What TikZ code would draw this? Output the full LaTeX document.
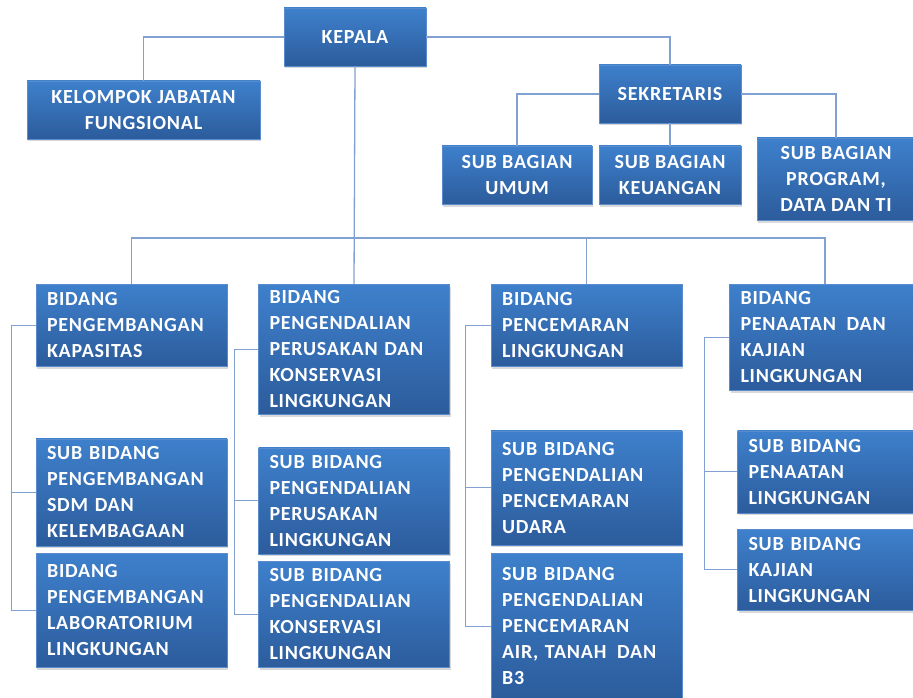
\documentclass[tikz,border=0pt]{standalone}
\usepackage{fontspec}
\setmainfont{Carlito}[LetterSpace=4]
\usepackage{tikz}
\usetikzlibrary{positioning,calc,shadows}
\definecolor{boxtop}{RGB}{62,128,204}
\definecolor{boxbottom}{RGB}{44,92,156}
\definecolor{boxline}{RGB}{90,140,205}
\definecolor{linkblue}{RGB}{128,161,209}

\begin{document}
\begin{tikzpicture}[
    x=1pt, y=-1pt,
    box/.style={draw=boxline, line width=0.5pt, top color=boxtop, bottom color=boxbottom,
        text=white, font=\bfseries\fontsize{20}{26}\selectfont,
        drop shadow={shadow xshift=1pt, shadow yshift=-2.5pt, opacity=0.3}},
    head/.style={box, align=center, inner sep=0pt},
    unit/.style={box, minimum width=191pt, text width=169pt, inner xsep=11pt, inner ysep=0pt, align=left, anchor=north},
    link/.style={draw=linkblue, line width=1.3pt}
]
    \useasboundingbox (0,0) rectangle (913,698);
    \clip (0,0) rectangle (913,698);

    % Kepala and Sekretariat
    \node[head, minimum width=142pt, minimum height=58pt] (kepala) at (355,37) {KEPALA};
    \node[head, minimum width=233pt, minimum height=58pt] (kjf) at (143.5,110) {KELOMPOK JABATAN\\FUNGSIONAL};
    \node[head, minimum width=142pt, minimum height=58pt] (sekretaris) at (670,94) {SEKRETARIS};
    \node[head, minimum width=150pt, minimum height=58pt] (umum) at (517,175) {SUB BAGIAN\\UMUM};
    \node[head, minimum width=142pt, minimum height=58pt] (keuangan) at (670,175) {SUB BAGIAN\\KEUANGAN};
    \node[head, minimum width=158pt, minimum height=82pt] (program) at (836,179) {SUB BAGIAN\\PROGRAM,\\DATA DAN TI};

    % Bidang
    \node[unit, minimum height=82pt] (b1) at (131.5,284) {BIDANG\\PENGEMBANGAN\\KAPASITAS};
    \node[unit, minimum height=130pt, right=31pt of b1.north east, anchor=north west] (b2) {BIDANG\\PENGENDALIAN\\PERUSAKAN DAN\\KONSERVASI\\LINGKUNGAN};
    \node[unit, minimum height=82pt, right=41pt of b2.north east, anchor=north west] (b3) {BIDANG\\PENCEMARAN\\LINGKUNGAN};
    \node[unit, minimum height=106pt, right=47pt of b3.north east, anchor=north west] (b4) {BIDANG\\PENAATAN\hspace{4pt} DAN\\KAJIAN\\LINGKUNGAN};

    % Sub Bidang
    \node[unit, minimum height=107pt, below=72pt of b1] (sdm) {SUB BIDANG\\PENGEMBANGAN\\SDM DAN\\KELEMBAGAAN};
    \node[unit, minimum height=114pt, below=7pt of sdm] (lab) {BIDANG\\PENGEMBANGAN\\LABORATORIUM\\LINGKUNGAN};
    \node[unit, minimum height=106pt, below=33pt of b2] (rusak) {SUB BIDANG\\PENGENDALIAN\\PERUSAKAN\\LINGKUNGAN};
    \node[unit, minimum height=106pt, below=7pt of rusak] (konservasi) {SUB BIDANG\\PENGENDALIAN\\KONSERVASI\\LINGKUNGAN};
    \node[unit, minimum height=114pt, below=64pt of b3] (udara) {SUB BIDANG\\PENGENDALIAN\\PENCEMARAN\\UDARA};
    \node[unit, minimum height=146pt, below=8pt of udara] (air) {SUB BIDANG\\PENGENDALIAN\\PENCEMARAN\\AIR, TANAH\hspace{4pt} DAN\\B3};
    \node[unit, minimum height=82pt, below=40pt of b4, xshift=8pt] (taat) {SUB BIDANG\\PENAATAN\\LINGKUNGAN};
    \node[unit, minimum height=81pt, below=16pt of taat] (kajian) {SUB BIDANG\\KAJIAN\\LINGKUNGAN};

    % Connections
    \coordinate (bus) at (0,238);
    \draw[link] (kepala.west) -| (kjf.north);
    \draw[link] (kepala.east) -| (sekretaris.north);
    \draw[link] (sekretaris.west) -| (umum.north);
    \draw[link] (sekretaris.south) -- (keuangan.north);
    \draw[link] (sekretaris.east) -| (program.north);
    \draw[link] (kepala.south) -- (b2.north);
    \draw[link] (b1.north) -- (b1 |- bus) -- (b4 |- bus) -- (b4.north);
    \draw[link] (b3 |- bus) -- (b3.north);

    \coordinate (r1) at ($(b1.west)+(-24,0)$);
    \coordinate (r2) at ($(b2.west)+(-24,0)$);
    \coordinate (r3) at ($(b3.west)+(-25,0)$);
    \coordinate (r4) at ($(b4.west)+(-25,0)$);
    \draw[link] (b1.west) -- (r1) |- (lab.west);
    \draw[link] (sdm.west) -- (sdm.west -| r1);
    \draw[link] (b2.west) -- (r2) |- (konservasi.west);
    \draw[link] (rusak.west) -- (rusak.west -| r2);
    \draw[link] (b3.west) -- (r3) |- (air.west);
    \draw[link] (udara.west) -- (udara.west -| r3);
    \draw[link] (b4.west) -- (r4) |- (kajian.west);
    \draw[link] (taat.west) -- (taat.west -| r4);
\end{tikzpicture}
\end{document}
